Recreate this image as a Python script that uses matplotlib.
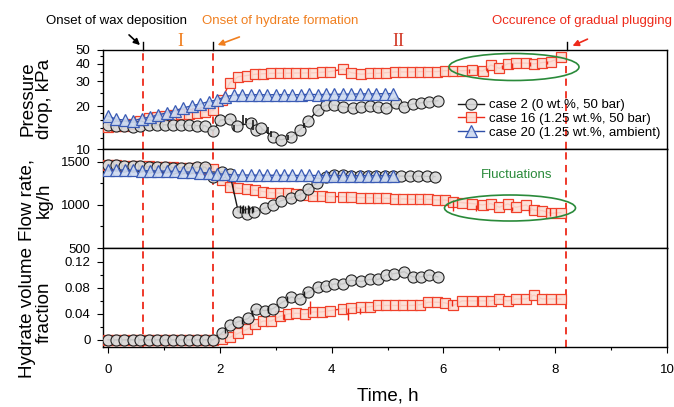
import numpy as np
import matplotlib
matplotlib.use('Agg')
import matplotlib.pyplot as plt
from matplotlib.patches import Ellipse
from matplotlib.lines import Line2D
from matplotlib.ticker import FixedLocator, MultipleLocator, NullFormatter, NullLocator

plt.rcParams['font.family'] = ['Liberation Sans', 'DejaVu Sans']

# ---- case 2 (0 wt.%, 50 bar) ----
t2_dp = [0, 0.15, 0.29, 0.44, 0.58, 0.73, 0.87, 1.02, 1.16, 1.31, 1.45, 1.6, 1.74, 1.88,
         2.01, 2.18, 2.3, 2.56, 2.65, 2.74, 2.95, 3.1, 3.28, 3.43, 3.58, 3.76, 3.9,
         4.05, 4.2, 4.38, 4.53, 4.68, 4.83, 4.98, 5.15, 5.3, 5.45, 5.6, 5.75, 5.9]
dp2 = [14.8, 14.6, 14.5, 14.4, 14.5, 14.7, 14.8, 14.8, 14.8, 14.7, 14.7, 14.6, 14.6, 13.4,
       16.0, 16.3, 14.6, 15.2, 13.6, 14.0, 12.2, 11.6, 12.2, 13.6, 15.8, 18.9, 20.4,
       20.4, 19.9, 19.4, 19.9, 20.1, 19.9, 19.4, 21.0, 19.9, 20.8, 21.2, 21.6, 21.9]
t2_fr = [0, 0.15, 0.29, 0.44, 0.58, 0.73, 0.87, 1.02, 1.16, 1.31, 1.45, 1.6, 1.74, 1.88,
         2.03, 2.18, 2.33, 2.48, 2.62, 2.8, 2.95, 3.1, 3.28, 3.43, 3.58, 3.73, 3.9,
         4.05, 4.2, 4.35, 4.5, 4.65, 4.8, 4.95, 5.1, 5.25, 5.4, 5.55, 5.7, 5.85]
fr2 = [1465, 1460, 1455, 1450, 1448, 1445, 1440, 1438, 1435, 1432, 1430, 1438, 1440, 1330,
       1387, 1360, 922, 895, 922, 962, 1000, 1050, 1085, 1116, 1182, 1252, 1322,
       1349, 1345, 1342, 1340, 1340, 1338, 1338, 1336, 1335, 1335, 1333, 1332, 1330]
t2_hv = [0, 0.15, 0.29, 0.44, 0.58, 0.73, 0.87, 1.02, 1.16, 1.31, 1.45, 1.6, 1.74, 1.88,
         2.03, 2.18, 2.33, 2.51, 2.65, 2.8, 2.95, 3.12, 3.28, 3.43, 3.58, 3.76, 3.9,
         4.05, 4.2, 4.35, 4.53, 4.68, 4.83, 4.98, 5.12, 5.3, 5.45, 5.6, 5.75, 5.9]
hv2 = [0, 0, 0, 0, 0, 0, 0, 0, 0, 0, 0, 0, 0, 0,
       0.010, 0.023, 0.028, 0.033, 0.048, 0.045, 0.048, 0.058, 0.066, 0.063, 0.074, 0.081, 0.083,
       0.086, 0.086, 0.092, 0.090, 0.093, 0.093, 0.100, 0.102, 0.105, 0.097, 0.097, 0.100, 0.097]

# ---- case 16 (1.25 wt.%, 50 bar) ----
t16 = [0, 0.15, 0.29, 0.44, 0.58, 0.73, 0.87, 1.02, 1.16, 1.31, 1.45, 1.6, 1.74, 1.88,
       2.03, 2.18, 2.33, 2.48, 2.63, 2.78, 2.92, 3.07, 3.22, 3.37, 3.52, 3.67, 3.82, 3.97,
       4.2, 4.35, 4.53, 4.68, 4.83, 4.98, 5.13, 5.28, 5.43, 5.58, 5.73, 5.88, 6.03, 6.18,
       6.33, 6.52, 6.7, 6.85, 7.0, 7.15, 7.3, 7.48, 7.62, 7.77, 7.92, 8.1]
dp16 = [14.4, 14.5, 14.5, 15.0, 15.8, 16.6, 16.9, 17.1, 17.3, 17.6, 17.8, 18.0, 18.2, 18.7,
        22.2, 29.4, 32.4, 33.0, 33.7, 34.0, 34.2, 34.3, 34.3, 34.4, 34.4, 34.5, 34.8, 35.2,
        36.6, 34.6, 33.7, 34.2, 34.2, 34.6, 35.0, 35.0, 35.0, 35.2, 35.2, 35.2, 35.7, 35.7,
        35.7, 36.1, 35.5, 39.2, 37.1, 40.0, 40.4, 40.4, 39.9, 40.8, 41.4, 44.4]
fr16 = [1465, 1462, 1458, 1455, 1450, 1447, 1443, 1440, 1437, 1434, 1430, 1425, 1420, 1415,
        1291, 1213, 1194, 1182, 1174, 1155, 1143, 1136, 1136, 1124, 1116, 1105, 1105, 1097,
        1097, 1090, 1085, 1085, 1078, 1078, 1070, 1070, 1066, 1066, 1066, 1058, 1058, 1039,
        1027, 1016, 1000, 1016, 973, 1012, 973, 1000, 942, 934, 903, 911]
hv16 = [0, 0, 0, 0, 0, 0, 0, 0, 0, 0, 0, 0, 0, 0,
        0.001, 0.004, 0.010, 0.016, 0.024, 0.029, 0.029, 0.036, 0.040, 0.041, 0.040, 0.043, 0.043, 0.045,
        0.048, 0.049, 0.050, 0.051, 0.053, 0.053, 0.053, 0.053, 0.053, 0.054, 0.058, 0.058, 0.057, 0.053,
        0.060, 0.060, 0.060, 0.060, 0.063, 0.060, 0.063, 0.063, 0.069, 0.063, 0.063, 0.063]

# ---- case 20 (1.25 wt.%, ambient) ----
t20 = [0, 0.15, 0.3, 0.45, 0.6, 0.75, 0.9, 1.05, 1.2, 1.35, 1.5, 1.65, 1.8, 1.95, 2.1, 2.25,
       2.4, 2.55, 2.7, 2.85, 3.0, 3.15, 3.3, 3.45, 3.6, 3.75, 3.9, 4.05, 4.2, 4.35, 4.5, 4.65,
       4.8, 4.95, 5.1]
dp20 = [17.1, 16.2, 16.0, 15.8, 16.4, 16.8, 17.4, 18.0, 18.6, 19.5, 20.2, 20.8, 21.6, 22.2, 23.4, 24.0,
        24.1, 24.1, 24.2, 24.1, 24.2, 24.2, 24.1, 24.2, 24.3, 24.2, 24.3, 24.3, 24.4, 24.4, 24.5, 24.5,
        24.5, 24.6, 24.6]
fr20 = [1410, 1408, 1405, 1402, 1400, 1397, 1395, 1392, 1390, 1385, 1380, 1375, 1370, 1365, 1355, 1350,
        1348, 1347, 1346, 1345, 1345, 1344, 1344, 1343, 1343, 1342, 1342, 1342, 1341, 1341, 1340, 1340,
        1340, 1340, 1340]

# short excursions of the raw traces between the markers: time, low, high
sp2_dp = ([2.26, 2.42, 2.47, 2.6, 2.86, 2.92, 3.22, 3.5],
          [13.3, 14.8, 15.2, 13.6, 12.8, 12.2, 11.6, 14.0],
          [14.8, 17.4, 16.5, 16.0, 14.3, 13.5, 12.5, 15.2])
sp16_dp = ([6.45, 6.78, 7.05, 7.22, 7.55, 7.85],
           [34.5, 35.0, 36.5, 37.0, 38.5, 39.5],
           [36.5, 37.5, 39.0, 40.5, 41.0, 42.0])
sp2_fr = ([2.36, 2.39, 2.42, 2.45, 2.5, 2.53, 2.57, 2.6],
          [905, 905, 905, 905, 905, 905, 910, 915],
          [1000, 990, 1000, 985, 995, 985, 990, 980])
sp16_fr = ([6.18, 6.58, 7.22, 7.53, 7.9],
           [925, 925, 925, 905, 875],
           [1055, 1000, 980, 980, 960])
sp2_hv = ([2.1, 2.4, 2.58, 2.87, 3.2, 3.5],
          [0.010, 0.024, 0.036, 0.042, 0.058, 0.066],
          [0.020, 0.034, 0.046, 0.052, 0.068, 0.076])
sp16_hv = ([3.15, 3.61, 4.29, 4.5, 6.15],
           [0.030, 0.040, 0.030, 0.040, 0.052],
           [0.040, 0.060, 0.049, 0.049, 0.062])

labels = ['case 2 (0 wt.%, 50 bar)', 'case 16 (1.25 wt.%, 50 bar)', 'case 20 (1.25 wt.%, ambient)']
events = [0.63, 1.87, 8.2]

RED = '#ee2a1a'
ORANGE = '#f07f1f'
GREEN = '#2a8a3a'
sty2 = dict(color='#1a1a1a', marker='o', ms=8, mfc=(0.85, 0.85, 0.85, 0.9), mec='#222222', mew=0.8, lw=1.0, zorder=4)
sty16 = dict(color=RED, marker='s', ms=7.2, mfc=(0.99, 0.87, 0.83, 0.9), mec='#f0402a', mew=0.9, lw=1.0, zorder=3)
sty20 = dict(color='#2f4fa8', marker='^', ms=8, mfc=(0.80, 0.85, 0.94, 0.9), mec='#3a5bb5', mew=0.9, lw=1.0, zorder=5)

W, H = 674, 407
fig = plt.figure(figsize=(W / 100, H / 100), dpi=100)


def fx(x):
    return x / W


def fy(y):
    return 1 - y / H


L, R = 103, 667
ax_p = fig.add_axes([fx(L), fy(149), (R - L) / W, 99 / H])
ax_f = fig.add_axes([fx(L), fy(248), (R - L) / W, 99 / H])
ax_h = fig.add_axes([fx(L), fy(347), (R - L) / W, 99 / H])

for ax in (ax_p, ax_f, ax_h):
    ax.set_xlim(-0.09, 10.0)
    for s in ax.spines.values():
        s.set_linewidth(1.0)
    for x in events:
        ax.axvline(x, color=RED, ls=(0, (4, 3)), lw=1.3, zorder=1)
    ax.tick_params(axis='y', which='major', direction='out', length=4, width=0.8, pad=5, labelsize=9.5)
    ax.tick_params(axis='y', which='minor', direction='out', length=2.5, width=0.8)

for ax in (ax_p, ax_f):
    ax.tick_params(axis='x', which='both', bottom=False, labelbottom=False)

# pressure drop
ax_p.set_yscale('log')
ax_p.plot(t16, dp16, **sty16)
ax_p.plot(t2_dp, dp2, **sty2)
ax_p.plot(t20, dp20, **sty20)
ax_p.vlines(*sp2_dp, color='#1a1a1a', lw=1.2, zorder=4)
ax_p.vlines(*sp16_dp, color=RED, lw=1.0, zorder=3)
ax_p.set_ylim(10, 50)
ax_p.yaxis.set_major_locator(FixedLocator([10, 20, 30, 40, 50]))
ax_p.yaxis.set_major_formatter(matplotlib.ticker.FixedFormatter(['10', '20', '30', '40', '50']))
ax_p.yaxis.set_minor_locator(FixedLocator([12, 14, 16, 18, 25, 35, 45]))
ax_p.yaxis.set_minor_formatter(NullFormatter())

h2 = Line2D([], [], **sty2)
h16 = Line2D([], [], **sty16)
h20 = Line2D([], [], **sty20)
ax_p.legend([h2, h16, h20], labels, loc='upper left', bbox_to_anchor=(fx(458), fy(99)),
            bbox_transform=fig.transFigure, frameon=False, fontsize=9.5, borderpad=0,
            borderaxespad=0, handlelength=2.0, handletextpad=0.35, labelspacing=0.12)

# flow rate
ax_f.plot(t16, fr16, **sty16)
ax_f.plot(t2_fr, fr2, **sty2)
ax_f.plot(t20, fr20, **sty20)
ax_f.vlines(*sp2_fr, color='#1a1a1a', lw=1.0, zorder=4)
ax_f.vlines(*sp16_fr, color=RED, lw=1.0, zorder=3)
ax_f.set_ylim(500, 1650)
ax_f.yaxis.set_major_locator(FixedLocator([500, 1000, 1500]))
ax_f.yaxis.set_minor_locator(FixedLocator([750, 1250]))

# hydrate volume fraction
ax_h.plot(t16, hv16, **sty16)
ax_h.plot(t2_hv, hv2, **sty2)
ax_h.vlines(*sp2_hv, color='#1a1a1a', lw=1.0, zorder=4)
ax_h.vlines(*sp16_hv, color=RED, lw=1.0, zorder=3)
ax_h.set_ylim(-0.011, 0.1415)
ax_h.yaxis.set_major_locator(FixedLocator([0, 0.04, 0.08, 0.12]))
ax_h.yaxis.set_major_formatter(matplotlib.ticker.FixedFormatter(['0', '0.04', '0.08', '0.12']))
ax_h.yaxis.set_minor_locator(FixedLocator([0.02, 0.06, 0.10]))
ax_h.xaxis.set_major_locator(MultipleLocator(2))
ax_h.xaxis.set_minor_locator(MultipleLocator(1))
ax_h.tick_params(axis='x', which='major', direction='out', length=4, width=0.8, pad=8, labelsize=9.5)
ax_h.tick_params(axis='x', which='minor', direction='out', length=2.5, width=0.8)

# axis titles
fig.text(fx(36), fy(99), 'Pressure\ndrop, kPa', rotation=90, ha='center', va='center',
         fontsize=13.5, linespacing=1.0)
fig.text(fx(36), fy(200), 'Flow rate,\nkg/h', rotation=90, ha='center', va='center',
         fontsize=13.5, linespacing=1.0)
fig.text(fx(36), fy(312), 'Hydrate volume\nfraction', rotation=90, ha='center', va='center',
         fontsize=13.5, linespacing=1.0)
fig.text(fx(388), fy(396), 'Time, h', ha='center', va='center', fontsize=13.5)

# event markers above the top axis
for x in events:
    xp = 108 + 56 * x
    fig.add_artist(Line2D([fx(xp), fx(xp)], [fy(42), fy(50)], color='black', lw=1.0))

fig.text(fx(117), fy(21), 'Onset of wax deposition', ha='center', va='center', fontsize=9.5)
fig.text(fx(280), fy(21), 'Onset of hydrate formation', ha='center', va='center', fontsize=9.5, color=ORANGE)
fig.text(fx(672), fy(21), 'Occurence of gradual plugging', ha='right', va='center', fontsize=9.5, color=RED)
fig.text(fx(180), fy(41), 'I', ha='center', va='center', fontsize=13, color=ORANGE, family='Liberation Serif')
fig.text(fx(398), fy(41), 'II', ha='center', va='center', fontsize=13, color='#d23b2a', family='Liberation Serif')

arrows = [((127, 33), (142, 47), 'black'), ((242, 36), (215, 46), ORANGE), ((590, 38), (570, 47), RED)]
for (x0, y0), (x1, y1), c in arrows:
    fig.add_artist(matplotlib.patches.FancyArrowPatch((fx(x0), fy(y0)), (fx(x1), fy(y1)),
                                                      transform=fig.transFigure, arrowstyle='-|>',
                                                      mutation_scale=9, color=c, lw=1.2))

# fluctuation region
fig.add_artist(Ellipse((fx(514), fy(67)), 130 / W, 27 / H, transform=fig.transFigure,
                       fill=False, ec=GREEN, lw=1.2, zorder=6))
fig.add_artist(Ellipse((fx(510), fy(208)), 131 / W, 26 / H, transform=fig.transFigure,
                       fill=False, ec=GREEN, lw=1.2, zorder=6))
fig.text(fx(517), fy(175), 'Fluctuations', ha='center', va='center', fontsize=9.5, color=GREEN)

fig.savefig('out.png', dpi=100)
